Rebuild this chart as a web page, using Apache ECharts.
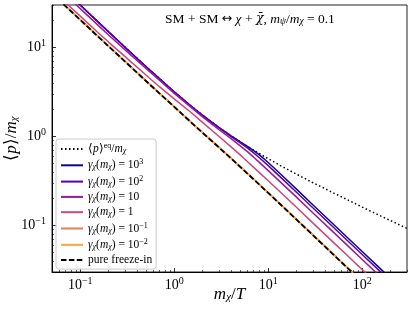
<!DOCTYPE html>
<html><head><meta charset="utf-8">
<script src="https://cdn.jsdelivr.net/npm/echarts@6/dist/echarts.min.js"></script>
<style>html,body{margin:0;padding:0;background:#fff}#c{width:413px;height:310px}</style>
</head><body><div id="c"></div>
<script>
// m_chi/T sample points
const xVals = [0.05,0.07,0.1,0.15,0.2,0.3,0.5,0.7,1,1.5,2,3,4,5,6,7,8,10,15,20,30,50,70,100,150,200,300];
// <p>/m_chi
const pEq   = [60.0,42.9,30.0,20.0,15.0,10.05,6.1,4.45,3.17,2.21,1.733,1.259,1.02,0.873,0.775,0.701,0.644,0.562,0.443,0.377,0.302,0.231,0.194,0.161,0.131,0.1135,0.0925];
const g1e3  = [60.0,42.9,30.0,20.0,15.0,10.05,6.1,4.45,3.17,2.21,1.733,1.259,1.02,0.873,0.772,0.694,0.625,0.51,0.342,0.256,0.17,0.102,0.0729,0.051,0.034,0.0255,0.017];
const g1e2  = [59.7,42.6,29.8,19.9,14.95,10.0,6.07,4.43,3.16,2.2,1.725,1.25,1.0,0.855,0.745,0.655,0.58,0.47,0.315,0.236,0.157,0.0944,0.0674,0.0472,0.0315,0.0236,0.0157];
const g1e1  = [54,38.8,27.3,18.3,13.8,9.4,5.8,4.25,3.05,2.14,1.66,1.19,0.95,0.79,0.675,0.585,0.515,0.413,0.277,0.208,0.138,0.083,0.0593,0.0415,0.0277,0.0208,0.0138];
const g1e0  = [44,31.7,22.5,15.1,11.5,7.9,4.9,3.6,2.65,1.87,1.44,1.0,0.77,0.625,0.523,0.45,0.395,0.318,0.213,0.16,0.1063,0.0638,0.0456,0.0319,0.0213,0.016,0.0106];
const g1em1 = [40.8,29.2,20.6,13.8,10.4,7.0,4.24,3.06,2.17,1.465,1.11,0.758,0.576,0.463,0.387,0.333,0.292,0.234,0.157,0.1175,0.0783,0.047,0.0335,0.0234,0.0157,0.0117,0.00783];
const g1em2 = [40.4,28.9,20.4,13.65,10.3,6.93,4.2,3.03,2.15,1.45,1.1,0.75,0.57,0.458,0.383,0.33,0.289,0.232,0.155,0.1163,0.0775,0.0465,0.0332,0.0232,0.0155,0.0116,0.00775];
const pFI   = [40.4,28.9,20.4,13.65,10.3,6.93,4.2,3.03,2.15,1.45,1.1,0.75,0.57,0.458,0.383,0.33,0.289,0.232,0.155,0.1163,0.0775,0.0465,0.0332,0.0232,0.0155,0.0116,0.00775];

const xMajor = [0.1,1,10,100];
const xMinor = [0.06,0.07,0.08,0.09,0.2,0.3,0.4,0.5,0.6,0.7,0.8,0.9,2,3,4,5,6,7,8,9,20,30,40,50,60,70,80,90,200,300];
const yMajor = [0.1,1,10];
const yMinor = [0.03,0.04,0.05,0.06,0.07,0.08,0.09,0.2,0.3,0.4,0.5,0.6,0.7,0.8,0.9,2,3,4,5,6,7,8,9,20,30];

const seriesNames = ['eq','1e3','1e2','1e1','1e0','1em1','1em2','fi'];
const seriesData = [pEq,g1e3,g1e2,g1e1,g1e0,g1em1,g1em2,pFI];
const legendLabels = [
  '{t|⟨}{i|p}{t|⟩}{s|eq}{t|/}{i|m}{u|χ}',
  '{i|γ}{u|χ}{t|(}{i|m}{u|χ}{t|) = 10}{s|3}',
  '{i|γ}{u|χ}{t|(}{i|m}{u|χ}{t|) = 10}{s|2}',
  '{i|γ}{u|χ}{t|(}{i|m}{u|χ}{t|) = 10}',
  '{i|γ}{u|χ}{t|(}{i|m}{u|χ}{t|) = 1}',
  '{i|γ}{u|χ}{t|(}{i|m}{u|χ}{t|) = 10}{s|−1}',
  '{i|γ}{u|χ}{t|(}{i|m}{u|χ}{t|) = 10}{s|−2}',
  '{t|pure freeze-in}'
];
const colors = ['#000000','#0d0887','#5c01a6','#9c179e','#cc4778','#ed7953','#fca636','#000000'];
const lineTypes = [[1.5,2.5],'solid','solid','solid','solid','solid','solid',[5.5,2.4]];
const lineWidths = [1.5,1.5,1.5,1.5,1.5,1.5,1.5,1.8];

const FONT = 'Liberation Serif';
const tickRich = {
  b:{fontFamily:FONT,fontSize:14,color:'#000'},
  s:{fontFamily:FONT,fontSize:10,color:'#000',padding:[0,0,8,0]}
};
function powLabel(v){
  const e = Math.round(Math.log10(v));
  return '{b|10}{s|' + (e<0 ? '−'+(-e) : e) + '}';
}
const legRich = {
  t:{fontFamily:FONT,fontSize:11.5,color:'#000'},
  i:{fontFamily:FONT,fontSize:11.5,fontStyle:'italic',color:'#000'},
  s:{fontFamily:FONT,fontSize:8,color:'#000',padding:[0,0,6,0]},
  u:{fontFamily:FONT,fontSize:8,fontStyle:'italic',color:'#000',padding:[4,0,0,0]}
};
const nameRich = {
  t:{fontFamily:FONT,fontSize:17,color:'#000'},
  i:{fontFamily:FONT,fontSize:17,fontStyle:'italic',color:'#000'},
  u:{fontFamily:FONT,fontSize:11,fontStyle:'italic',color:'#000',padding:[6,0,0,0]}
};

const chart = echarts.init(document.getElementById('c'), null, {renderer:'canvas'});
const series = seriesData.map((arr, k) => ({
  name: seriesNames[k],
  type: 'line',
  data: xVals.map((x, i) => [x, arr[i]]),
  showSymbol: false,
  symbol: 'none',
  clip: true,
  lineStyle: {color: colors[k], width: lineWidths[k], type: lineTypes[k]},
  itemStyle: {color: colors[k]},
  z: 2 + k,
  xAxisIndex: 0, yAxisIndex: 0
}));

const axisBase = {type:'log', logBase:10, splitLine:{show:false}, minorTick:{show:false}};
chart.setOption({
  animation: false,
  backgroundColor: '#fff',
  grid: {left:52, right:6, top:5, bottom:38, show:true, borderColor:'#222', borderWidth:1,
         backgroundColor:'transparent', containLabel:false, outerBoundsMode:'none'},
  title: {
    text: '{r|SM + SM }{a|↔}{r| }{i|χ}{r| + }{ib|χ̄}{r|, }{i|m}{u|ψ}{r|/}{i|m}{u|χ}{r| = 0.1}',
    left: 165, top: 12, padding: 0,
    textStyle: {fontWeight:'normal', rich: {
      r:{fontFamily:FONT,fontSize:13.5,fontWeight:'normal',color:'#000'},
      a:{fontFamily:'DejaVu Sans',fontSize:12.5,fontWeight:'normal',color:'#000'},
      i:{fontFamily:FONT,fontSize:13.5,fontStyle:'italic',fontWeight:'normal',color:'#000'},
      ib:{fontFamily:'DejaVu Serif',fontSize:12.5,fontStyle:'italic',fontWeight:'normal',color:'#000'},
      u:{fontFamily:FONT,fontSize:9.5,fontStyle:'italic',fontWeight:'normal',color:'#000',padding:[4,0,0,0]}
    }}
  },
  legend: {
    orient:'vertical', left:56, top:139,
    itemWidth:22, itemHeight:10, itemGap:3.3,
    padding:[3,4,3,4],
    backgroundColor:'rgba(255,255,255,0.85)', borderColor:'#ccc', borderWidth:1, borderRadius:3,
    itemStyle:{opacity:0},
    data: seriesNames,
    formatter: name => legendLabels[seriesNames.indexOf(name)],
    textStyle: {rich: legRich},
    selectedMode: false
  },
  xAxis: [
    Object.assign({}, axisBase, {
      min:0.05, max:300, position:'bottom',
      axisLine:{lineStyle:{color:'#000',width:1}},
      axisTick:{inside:true, length:4, customValues:xMajor, lineStyle:{color:'#000',width:0.8}},
      axisLabel:{customValues:xMajor, formatter:powLabel, margin:4, rich:tickRich},
      name:'{i|m}{u|χ}{t|/}{i|T}', nameLocation:'middle', nameGap:14, nameMoveOverlap:false,
      nameTextStyle:{rich:nameRich}
    }),
    Object.assign({}, axisBase, {
      min:0.05, max:300, position:'bottom',
      axisLine:{show:false},
      axisTick:{inside:true, length:2, customValues:xMinor, lineStyle:{color:'#000',width:0.6}},
      axisLabel:{show:false}
    })
  ],
  yAxis: [
    Object.assign({}, axisBase, {
      min:0.03, max:30, position:'left',
      axisLine:{show:true, lineStyle:{color:'#000',width:1}},
      axisTick:{show:true, inside:true, length:4, customValues:yMajor, lineStyle:{color:'#000',width:0.8}},
      axisLabel:{customValues:yMajor, formatter:powLabel, margin:6, rich:tickRich},
      name:'{t|⟨}{i|p}{t|⟩/}{i|m}{u|χ}', nameLocation:'middle', nameGap:32, nameMoveOverlap:false,
      nameTextStyle:{rich:nameRich}
    }),
    Object.assign({}, axisBase, {
      min:0.03, max:30, position:'left',
      axisLine:{show:false},
      axisTick:{show:true, inside:true, length:2, customValues:yMinor, lineStyle:{color:'#000',width:0.6}},
      axisLabel:{show:false}
    })
  ],
  series: series
});
</script>
</body></html>
